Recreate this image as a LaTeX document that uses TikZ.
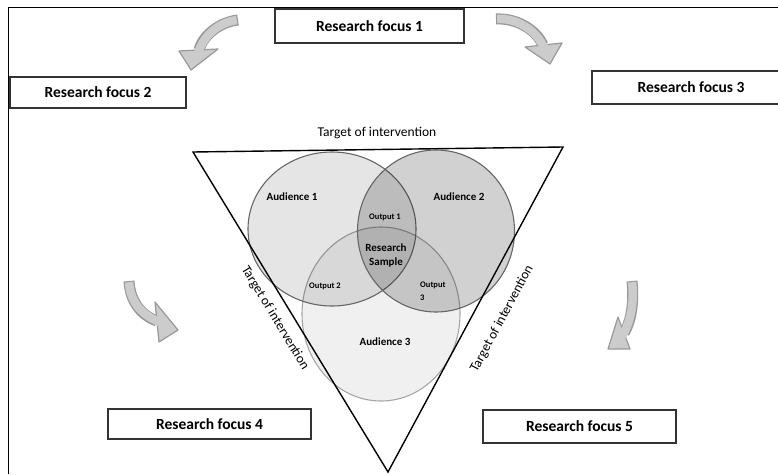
\documentclass[tikz,border=0pt]{standalone}
\usepackage{fontspec}
\setmainfont{Carlito}
\usetikzlibrary{shapes.geometric}
\begin{document}
\begin{tikzpicture}[x=1pt,y=-1pt,
 focusbox/.style={draw=black!80, line width=1.5pt, fill=white, inner sep=0pt, font=\fontsize{15.5}{18}\selectfont\bfseries},
 aud/.style={ellipse, draw=black!60, line width=1.1pt, fill=black, inner sep=0pt},
 lbl/.style={font=\fontsize{11}{12}\selectfont\bfseries, inner sep=0pt},
 smalllbl/.style={font=\fontsize{8.5}{10}\selectfont\bfseries, inner sep=0pt},
 tgt/.style={font=\fontsize{13.5}{15}\selectfont, inner sep=0pt},
 shaftout/.style={draw=black!40, line width=11pt},
 shaftin/.style={draw=black!20, line width=8.5pt, shorten >=-4pt, shorten <=1.2pt},
 headstyle/.style={draw=black!40, line width=1.2pt, fill=black!20, line join=round},
]
\useasboundingbox (0,0) rectangle (778,474);
% frame
\coordinate (f1) at (8,474);
\coordinate (f2) at (8,7);
\coordinate (f3) at (778,7);
\draw[line width=1pt] (f1) -- (f2) -- (f3);

% circles
\node[aud, minimum width=158pt, minimum height=174pt, fill opacity=0.06, draw=black!35] (a3) at (381,314) {};
\node[aud, minimum width=168pt, minimum height=154pt, fill opacity=0.10] (a1) at (332,229) {};
\node[aud, minimum width=157pt, minimum height=162pt, fill opacity=0.18] (a2) at (436,231) {};

% triangle
\coordinate (tl) at (193,152);
\coordinate (tr) at (563,147);
\coordinate (tb) at (388,472);
\draw[line width=1.4pt, line join=miter] (tl) -- (tr) -- (tb) -- cycle;

% labels in the venn
\node[lbl] (la1) at (292,197) {Audience 1};
\node[lbl] (la2) at (459,197) {Audience 2};
\node[lbl] (la3) at (385,342) {Audience 3};
\node[smalllbl] (lo1) at (385,217) {Output 1};
\node[lbl, align=center, font=\fontsize{11}{14}\selectfont\bfseries] (lrs) at (386,256) {Research\\Sample};
\node[smalllbl] (lo2) at (325,286) {Output 2};
\node[smalllbl, anchor=west, align=left, font=\fontsize{8.5}{13}\selectfont\bfseries] (lo3) at (420,291) {Output\\3};

% target labels
\node[tgt] (ttop) at (377,133) {Target of intervention};
\node[tgt, rotate=-58.8] (tleft) at (275,318) {Target of intervention};
\node[tgt, rotate=61.7] (tright) at (502,319) {Target of intervention};

% focus boxes
\node[focusbox, minimum width=189pt, minimum height=34pt] (rf1) at (369.5,26) {Research focus 1};
\node[focusbox, minimum width=176pt, minimum height=31pt] (rf2) at (98,92.5) {Research focus 2};
\node[focusbox, minimum width=198pt, minimum height=33pt] (rf3) at (691,87.5) {Research focus 3};
\node[focusbox, minimum width=203pt, minimum height=30pt] (rf4) at (209.5,424) {Research focus 4};
\node[focusbox, minimum width=193pt, minimum height=33pt] (rf5) at (579.5,426.5) {Research focus 5};

% arrow A (top-left)
\coordinate (aT) at (238,20);
\coordinate (aB) at (199,50);
\draw[shaftout] (aT) .. controls (220,22) and (203,35) .. (aB);
\draw[headstyle] (179,51) -- (218,49) -- (191,70) -- cycle;
\draw[shaftin] (aT) .. controls (220,22) and (203,35) .. (aB);

% arrow B (top-right)
\coordinate (bT) at (496,19);
\coordinate (bB) at (543,45);
\draw[shaftout] (bT) .. controls (515,18) and (535,28) .. (bB);
\draw[headstyle] (525,47) -- (562,43) -- (550,64) -- cycle;
\draw[shaftin] (bT) .. controls (515,18) and (535,28) .. (bB);

% arrow C (left middle)
\coordinate (cT) at (129,281);
\coordinate (cB) at (157,321);
\draw[shaftout] (cT) .. controls (130,300) and (140,315) .. (cB);
\draw[headstyle] (155,302) -- (159,342) -- (178,330) -- cycle;
\draw[shaftin] (cT) .. controls (130,300) and (140,315) .. (cB);

% arrow D (right middle)
\coordinate (dT) at (632,281);
\coordinate (dB) at (624,333);
\draw[shaftout] (dT) .. controls (634,300) and (632,320) .. (dB);
\draw[headstyle] (618,317) -- (630,349) -- (608,349) -- cycle;
\draw[shaftin] (dT) .. controls (634,300) and (632,320) .. (dB);
\end{tikzpicture}
\end{document}
